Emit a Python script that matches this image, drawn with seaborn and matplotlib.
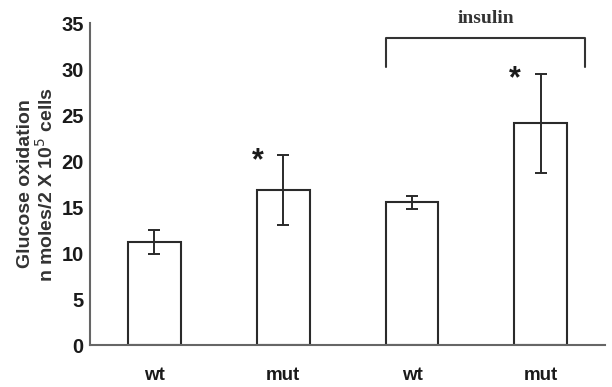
import matplotlib
matplotlib.use("Agg")
import matplotlib.pyplot as plt
import seaborn as sns
import pandas as pd

# ─── Data ─────────────────────────────────────────────────────────────────────

groups    = ["wt", "mut", "wt + insulin", "mut + insulin"]
genotypes = ["wt", "mut", "wt", "mut"]
means     = [11.2, 16.8, 15.5, 24.1]
errors    = [1.3, 3.8, 0.7, 5.4]
stars     = [False, True, False, True]

df = pd.DataFrame({"group": groups, "mean": means, "err": errors})

# ─── Plot ─────────────────────────────────────────────────────────────────────

sns.set_style("white")
plt.rcParams["font.family"] = ["Liberation Sans", "DejaVu Sans"]

fig = plt.figure(figsize=(6.12, 3.87), dpi=100)
ax = fig.add_axes([0.147, 0.1085, 0.842, 0.832])

sns.barplot(data=df, x="group", y="mean", ax=ax, width=0.41,
            color="white", edgecolor="#2a2a2a", linewidth=1.5, errorbar=None)
ax.errorbar(range(len(groups)), df["mean"], yerr=df["err"], fmt="none",
            ecolor="#2a2a2a", elinewidth=1.4, capsize=4, capthick=1.4)

for i, s in enumerate(stars):
    if s:
        ax.text(i - 0.2, means[i] + errors[i] - 0.6, "*", ha="center", va="center",
                fontsize=22, fontweight="bold", color="#1a1a1a")

ax.set_xlim(-0.5, 3.5)
ax.set_ylim(0, 35)
ax.set_yticks(range(0, 36, 5))
ax.tick_params(axis="y", direction="out", length=3.5, width=1.2, colors="#666666",
               labelcolor="#1a1a1a", labelsize=14.5, pad=1)
for t in ax.get_yticklabels():
    t.set_fontweight("bold")

ax.set_xticks(range(len(groups)))
ax.set_xticklabels(genotypes, fontsize=13.5, fontweight="bold", color="#1a1a1a")
ax.tick_params(axis="x", which="major", length=0, pad=16)
ax.set_xticks([-0.5, 0.5, 1.5, 2.5], minor=True)
ax.tick_params(axis="x", which="minor", direction="out", length=4, width=1.2,
               colors="#666666")
ax.set_xlabel("")
ax.set_ylabel("Glucose oxidation\nn moles/2 X 10$^{5}$ cells", fontsize=14,
              fontweight="bold", color="#333333", labelpad=3, linespacing=1.05)

for side in ["top", "right"]:
    ax.spines[side].set_visible(False)
for side in ["left", "bottom"]:
    ax.spines[side].set_color("#666666")
    ax.spines[side].set_linewidth(1.5)

# insulin bracket
bx0, bx1, by0, by1 = 1.8, 3.34, 30.2, 33.4
ax.plot([bx0, bx0, bx1, bx1], [by0, by1, by1, by0], color="#333333", lw=1.5,
        clip_on=False)
ax.text((bx0 + bx1) / 2, 35.5, "insulin", ha="center", va="center",
        fontsize=14, fontweight="bold", family="Liberation Serif", color="#333333")

fig.savefig("out.png", dpi=100)
